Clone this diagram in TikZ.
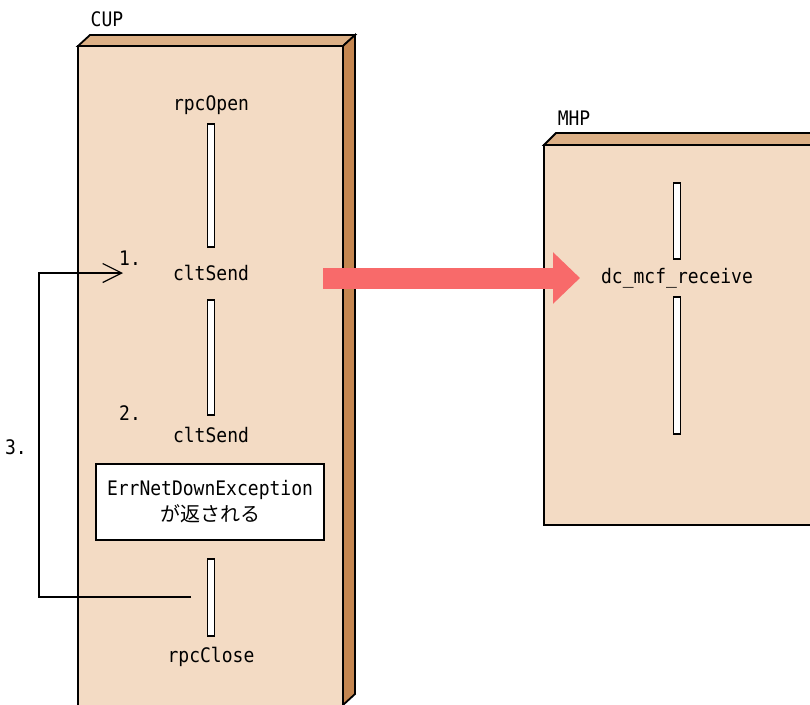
\documentclass[tikz,border=0pt]{standalone}
\usepackage{fontspec}
\setmainfont[FakeStretch=0.9]{DejaVu Sans Mono}
\newfontfamily\jpfont{Noto Sans CJK JP}
\usetikzlibrary{arrows.meta}
\definecolor{frontc}{RGB}{243,219,196}
\definecolor{topc}{RGB}{220,176,134}
\definecolor{sidec}{RGB}{196,134,80}
\definecolor{redarrow}{RGB}{248,106,106}
\begin{document}
\begin{tikzpicture}[x=1pt,y=-1pt,
  lbl/.style={inner sep=0pt, font=\fontsize{20}{25}\selectfont},
  barbox/.style={draw=black, line width=1.4pt, fill=white, minimum width=7.5pt, inner sep=0pt},
  face/.style={draw=black, line width=1.8pt, line join=miter},
  msgbox/.style={draw=black, line width=1.3pt, fill=white, minimum width=228pt, minimum height=76pt, inner sep=0pt, align=center, font=\fontsize{20}{25}\selectfont},
  loopline/.style={draw=black, line width=1.2pt, -{Straight Barb[length=19pt,width=19pt]}},
  bigarrow/.style={draw=redarrow, line width=21pt, -{Triangle[length=27pt 0 0,width=50pt 0 0]}}]
\useasboundingbox (0,0) rectangle (810,704);
\clip (0,0) rectangle (810,704);
% CUP block
\filldraw[face, fill=frontc] (78,46) rectangle (343,730);
\filldraw[face, fill=topc] (78,46) -- (90,35) -- (355,35) -- (343,46) -- cycle;
\filldraw[face, fill=sidec] (343,46) -- (355,35) -- (355,694) -- (343,705) -- cycle;
\node[lbl, anchor=center] (cup) at (107,19) {CUP};
% MHP block
\filldraw[face, fill=frontc] (544,145) rectangle (830,525);
\filldraw[face, fill=topc] (544,145) -- (556,133) -- (830,133) -- (830,145) -- cycle;
\node[lbl] (mhp) at (574,118) {MHP};
% CUP contents
\node[lbl] (open) at (211,105) {rpcOpen};
\node[barbox, minimum height=123pt] (b1) at (211,185.5) {};
\node[lbl] (send1) at (211,273) {cltSend};
\node[lbl] (n1) at (130,258) {1.};
\node[barbox, minimum height=115pt] (b2) at (211,357.5) {};
\node[lbl] (n2) at (130,413) {2.};
\node[lbl] (send2) at (211,435) {cltSend};
\node[msgbox] (err) at (210,502) {ErrNetDownException\\[1pt]{\jpfont\fontsize{20}{25}\selectfont が返される}};
\node[barbox, minimum height=77pt] (b3) at (211,597.5) {};
\node[lbl] (close) at (211,657) {rpcClose};
\node[lbl] (n3) at (16,447) {3.};
% MHP contents
\node[barbox, minimum height=76pt] (m1) at (677,221) {};
\node[lbl] (recv) at (677,278) {dc\_mcf\_receive};
\node[barbox, minimum height=137pt] (m2) at (677,365.5) {};
% loop connector
\coordinate (ls) at (191,597);
\coordinate (le) at (123,273);
\draw[loopline] (ls) -- (39,597) |- (le);
% big arrow
\coordinate (ra1) at (323,278);
\coordinate (ra2) at (580,278);
\draw[bigarrow] (ra1) -- (ra2);
\end{tikzpicture}
\end{document}
